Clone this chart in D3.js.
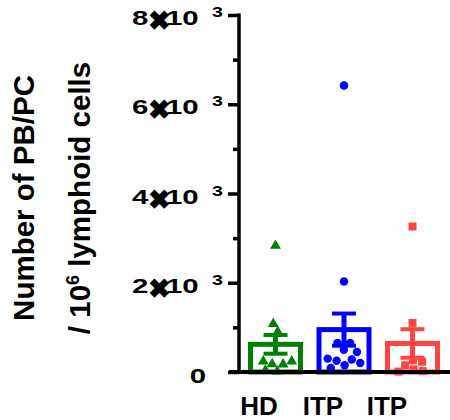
<!DOCTYPE html>
<html>
<head>
<meta charset="utf-8">
<script src="https://cdn.jsdelivr.net/npm/d3@7"></script>
<style>
  body { margin: 0; background: #fff; }
  text { font-family: "Liberation Sans", Arial, sans-serif; font-weight: bold; }
</style>
</head>
<body>
<div id="chart"></div>
<script>
// groups and values
const groups = ['HD', 'ITP', 'ITP'];
const colors = ['#008000', '#0000ff', '#ff4444'];
const barMeans = [620, 950, 640];
const barSems = [210, 360, 320];
const hdValues = [2830, 1080, 900, 240, 180, 40, 10, 170, 240];
const itpValues = [6420, 2030, 650, 650, 500, 450, 300, 250, 150, 90, 200, 280];
const itp2Values = [3260, 1100, 260, 150, 60, 10, 20, 230];
const yTicks = [0, 1000, 2000, 3000, 4000, 5000, 6000, 7000, 8000];
const yLabelTicks = [2000, 4000, 6000, 8000];

const width = 450, height = 420;

const svg = d3.select('#chart').append('svg')
    .attr('width', width)
    .attr('height', height);

const y = d3.scaleLinear().domain([0, 8000]).range([372, 15]);
const x = d3.scalePoint().domain([0, 1, 2]).range([275.5, 412.5]);
const xLabel = d3.scalePoint().domain([0, 1, 2]).range([259, 387]);
const barW = 50;

// bars (hollow)
svg.selectAll('rect.bar')
    .data(barMeans)
    .enter().append('rect')
    .attr('class', 'bar')
    .attr('x', (d, i) => x(i) - barW / 2)
    .attr('y', d => y(d))
    .attr('width', barW)
    .attr('height', d => y(0) - y(d))
    .attr('fill', 'none')
    .attr('stroke', (d, i) => colors[i])
    .attr('stroke-width', 5);

// error bars
const err = svg.selectAll('g.err')
    .data(barMeans)
    .enter().append('g')
    .attr('class', 'err')
    .attr('stroke', (d, i) => colors[i]);

err.append('line')
    .attr('x1', (d, i) => x(i)).attr('x2', (d, i) => x(i))
    .attr('y1', (d, i) => y(d + barSems[i]))
    .attr('y2', (d, i) => y(d - barSems[i]))
    .attr('stroke-width', 5);
err.append('line')
    .attr('x1', (d, i) => x(i) - 12).attr('x2', (d, i) => x(i) + 12)
    .attr('y1', (d, i) => y(d + barSems[i]))
    .attr('y2', (d, i) => y(d + barSems[i]))
    .attr('stroke-width', 4);
err.append('line')
    .attr('x1', (d, i) => x(i) - 12).attr('x2', (d, i) => x(i) + 12)
    .attr('y1', (d, i) => y(d - barSems[i]))
    .attr('y2', (d, i) => y(d - barSems[i]))
    .attr('stroke-width', 4);

// scatter points, spread sideways with a force layout
const allValues = [hdValues, itpValues, itp2Values];
const shapes = [d3.symbolTriangle, d3.symbolCircle, d3.symbolSquare];
const sizes = [52, 56, 64];

allValues.forEach((vals, gi) => {
    const nodes = vals.map(v => ({ v: v, x: x(gi), fy: y(v) }));
    const sim = d3.forceSimulation(nodes)
        .force('x', d3.forceX(x(gi)).strength(0.05))
        .force('c', d3.forceCollide(4.6))
        .stop();
    for (let k = 0; k < 250; k++) sim.tick();

    svg.append('g').selectAll('path')
        .data(nodes)
        .enter().append('path')
        .attr('d', d3.symbol().type(shapes[gi]).size(sizes[gi]))
        .attr('transform', d => `translate(${d.x},${y(d.v)})`)
        .attr('fill', colors[gi]);
});

// y axis
const yAxis = d3.axisLeft(y)
    .tickValues(yTicks)
    .tickSize(11)
    .tickFormat('');
const gy = svg.append('g')
    .attr('transform', 'translate(239,0)')
    .call(yAxis);
gy.select('.domain').attr('stroke-width', 3.5).attr('d', 'M0,13.5V372');
gy.selectAll('.tick line')
    .attr('stroke-width', 3.5)
    .attr('x2', d => (d % 2000 === 0) ? -11 : -6);

// y tick labels: n x 10^3, type drawn wide like the original
const sx = 1.4;
const lab = svg.selectAll('text.ylab')
    .data(yLabelTicks)
    .enter().append('text')
    .attr('class', 'ylab')
    .attr('transform', d => `translate(132,${y(d) + 10}) scale(${sx},1)`)
    .attr('font-size', 21);
lab.append('tspan').attr('x', 0).text(d => d / 1000);
lab.append('tspan').attr('x', 24.3).text('1');
lab.append('tspan').attr('x', 35.9).text('0');
lab.append('tspan')
    .attr('x', 57.1)
    .attr('font-size', 14)
    .attr('dy', -8)
    .text('3');

svg.selectAll('text.times')
    .data(yLabelTicks)
    .enter().append('text')
    .attr('class', 'times')
    .attr('x', 147.5)
    .attr('y', d => y(d) + 15)
    .attr('font-family', 'DejaVu Sans')
    .attr('font-size', 27)
    .text('\u2716');

svg.append('text')
    .attr('transform', `translate(206,${y(0) + 10.5}) scale(${sx},1)`)
    .attr('font-size', 21)
    .attr('text-anchor', 'end')
    .text('0');

// x axis
svg.append('line')
    .attr('x1', 229).attr('x2', width)
    .attr('y1', y(0)).attr('y2', y(0))
    .attr('stroke', '#000')
    .attr('stroke-width', 4);

svg.selectAll('text.xlab')
    .data(groups)
    .enter().append('text')
    .attr('class', 'xlab')
    .attr('x', (d, i) => xLabel(i))
    .attr('y', 415)
    .attr('text-anchor', 'middle')
    .attr('font-family', 'Lato, "Open Sans", sans-serif')
    .attr('font-size', 26)
    .text(d => d);

// y title, two lines
svg.append('text')
    .attr('transform', 'translate(34,198) rotate(-90)')
    .attr('text-anchor', 'middle')
    .attr('font-size', 29.5)
    .text('Number of PB/PC');

const t2 = svg.append('text')
    .attr('transform', 'translate(90,198) rotate(-90)')
    .attr('text-anchor', 'middle')
    .attr('font-size', 29.5);
t2.append('tspan').text('/ 10');
t2.append('tspan').attr('font-size', 18).attr('dy', -11).text('6');
t2.append('tspan').attr('dy', 11).text(' lymphoid cells');
</script>
</body>
</html>
